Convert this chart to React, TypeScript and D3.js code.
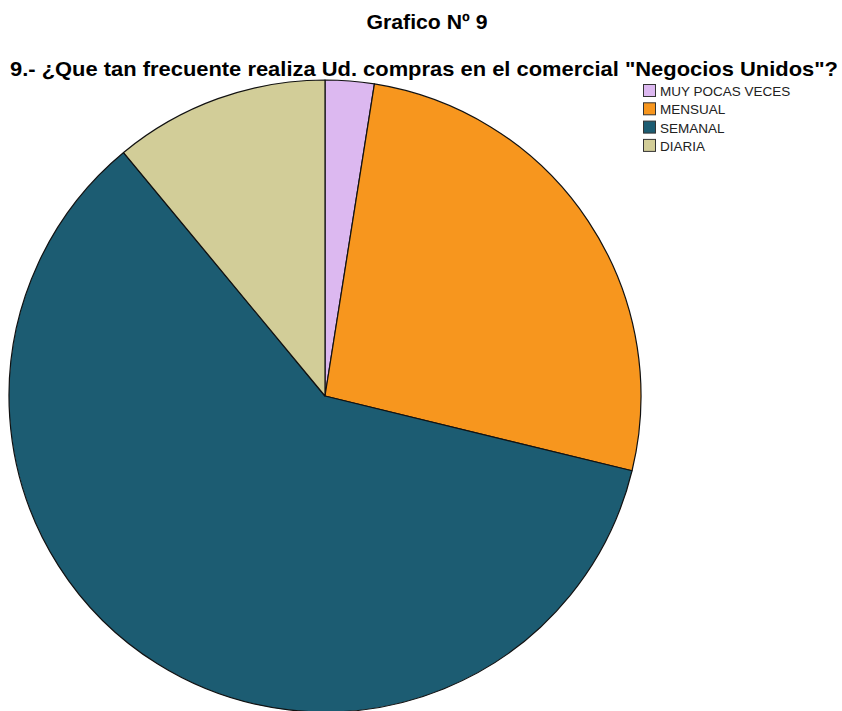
import React from "react";
import * as d3 from "d3";

const categories = ["MUY POCAS VECES", "MENSUAL", "SEMANAL", "DIARIA"];
const values = [2.5, 26.3, 60.2, 11.0];
const colors = ["#dcb8f0", "#f7961e", "#1c5c72", "#d2cd98"];
const title = "Grafico Nº 9";
const subtitle = "9.- ¿Que tan frecuente realiza Ud. compras en el comercial \"Negocios Unidos\"?";

export default function App() {
  const W = 842, H = 711;
  const cx = 325, cy = 396, r = 316;
  const pie = d3.pie<number>().value((d) => d).sort(null);
  const arcs = pie(values);
  const arc = d3.arc<d3.PieArcDatum<number>>().innerRadius(0).outerRadius(r);
  return (
    <svg width={W} height={H} style={{ position: "absolute", left: 0, top: 0, background: "#fff" }}
      fontFamily="'Liberation Sans', Arial, sans-serif">
      <text x={427} y={29} textAnchor="middle" fontSize={20} fontWeight="bold" fill="#000" textLength={121} lengthAdjust="spacingAndGlyphs">{title}</text>
      <text x={10} y={76} fontSize={21} fontWeight="bold" fill="#000" textLength={828} lengthAdjust="spacingAndGlyphs">{subtitle}</text>
      <g transform={`translate(${cx},${cy})`}>
        {arcs.map((a, i) => (
          <path key={i} d={arc(a) || ""} fill={colors[i]} stroke="#111" strokeWidth={1.2} strokeLinejoin="round" />
        ))}
      </g>
      <g transform="translate(643,84)">
        {categories.map((c, i) => (
          <g key={c} transform={`translate(0,${i * 18.3})`}>
            <rect x={0.5} y={0.5} width={12} height={12} fill={colors[i]} stroke="#333" strokeWidth={1} />
            <text x={17} y={12} fontSize={13.5} fill="#222">{c}</text>
          </g>
        ))}
      </g>
    </svg>
  );
}
